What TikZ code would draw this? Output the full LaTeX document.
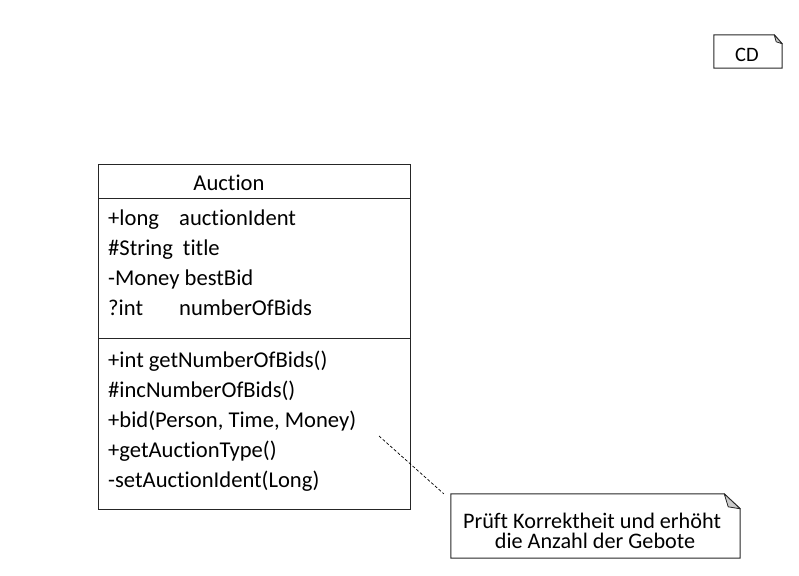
\documentclass[tikz,border=0pt]{standalone}
\usepackage{fontspec}
\setmainfont{Carlito}[Ligatures={NoCommon}]
\usetikzlibrary{calc}
\tikzset{
  x=1pt, y=-1pt,
  line/.style={draw=black!85, line width=1pt},
  member/.style={anchor=base west, inner sep=0pt, font=\fontsize{22.6}{26}\selectfont},
  notetext/.style={align=center, inner sep=0pt, font=\fontsize{22.2}{22}\selectfont},
  fold/.style={fill=black!20, draw=black!85, line width=0.8pt, line join=round},
}
\begin{document}
\begin{tikzpicture}
\useasboundingbox (0,0) rectangle (799,575);
% class box
\node[line, rectangle, minimum width=312pt, minimum height=345pt, inner sep=0pt] (cls) at (254,336.5) {};
\coordinate (h1) at (98,198);
\coordinate (h2) at (98,338);
\draw[line] (h1) -- (h1 -| cls.east);
\draw[line] (h2) -- (h2 -| cls.east);
\node[member, anchor=base] (title) at (229,190.5) {Auction};
\node[member] (a1) at (108,225.5) {+long};
\node[member] (a1b) at (179,225.5) {auctionIdent};
\node[member] (a2) at (108,255.5) {\#String\hspace{10pt}title};
\node[member] (a3) at (108,285.5) {-Money bestBid};
\node[member] (a4) at (108,315) {?int};
\node[member] (a4b) at (179,315) {numberOfBids};
\node[member] (m1) at (108,367) {+int getNumberOfBids()};
\node[member] (m2) at (108,397) {\#incNumberOfBids()};
\node[member] (m3) at (108,427) {+bid(Person, Time, Money)};
\node[member] (m4) at (108,457) {+getAuctionType()};
\node[member] (m5) at (108,487) {-setAuctionIdent(Long)};
% comment note
\node[minimum width=289pt, minimum height=64pt, inner sep=0pt] (note) at (595.5,526) {};
\draw[line, line join=miter] (note.north west) -- ($(note.north east)+(-16,0)$) -- ($(note.north east)+(0,15)$) -- (note.south east) -- (note.south west) -- cycle;
\draw[fold] ($(note.north east)+(-16,0)$) -- ($(note.north east)+(-12,13)$) -- ($(note.north east)+(0,15)$) -- cycle;
\node[notetext, anchor=base] (nt1) at (592,528) {Prüft Korrektheit und erhöht};
\node[notetext, anchor=base] (nt2) at (595,548) {die Anzahl der Gebote};
\coordinate (anchorpt) at (379,436);
\draw[black, line width=0.7pt, dash pattern=on 3pt off 2pt] (anchorpt) -- ($(note.north west)+(-7,0)$);
% CD note
\node[minimum width=68pt, minimum height=33pt, inner sep=0pt] (cd) at (748,51.5) {};
\draw[line, line join=miter] (cd.north west) -- ($(cd.north east)+(-8,0)$) -- ($(cd.north east)+(0,9)$) -- (cd.south east) -- (cd.south west) -- cycle;
\draw[fold] ($(cd.north east)+(-8,0)$) -- ($(cd.north east)+(-6,7)$) -- ($(cd.north east)+(0,9)$) -- cycle;
\node[inner sep=0pt, anchor=base, font=\fontsize{20.5}{20}\selectfont] (cdt) at (747,61.5) {CD};
\end{tikzpicture}
\end{document}
